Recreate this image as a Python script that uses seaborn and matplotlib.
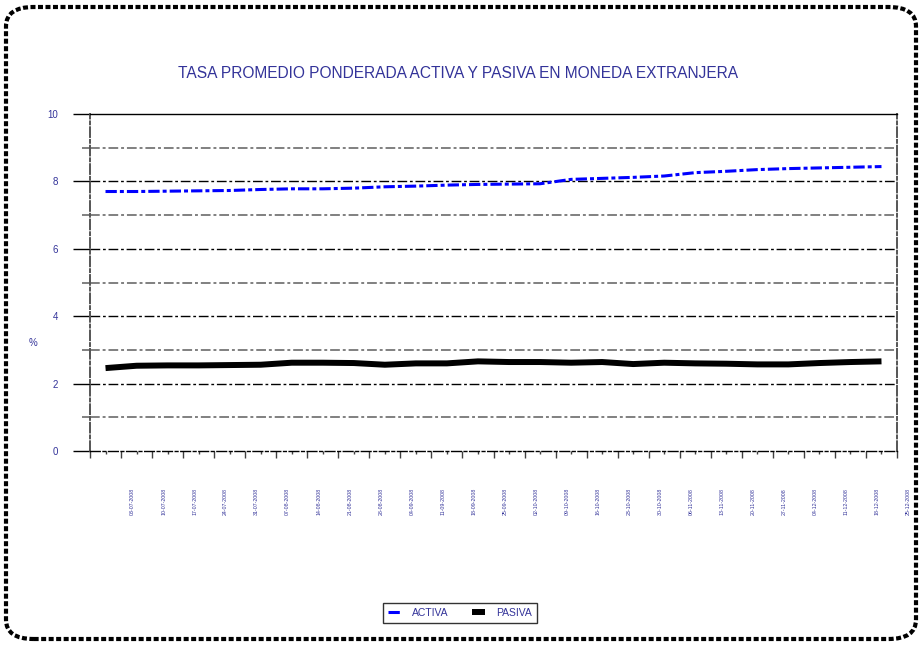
import numpy as np
import pandas as pd
import matplotlib
matplotlib.use("Agg")
import matplotlib.pyplot as plt
import matplotlib.transforms as mtransforms
from matplotlib.patches import FancyBboxPatch
from matplotlib.lines import Line2D
import seaborn as sns

# datos semanales (jueves) 2008
fechas = ['03-07-2008', '10-07-2008', '17-07-2008', '24-07-2008', '31-07-2008',
          '07-08-2008', '14-08-2008', '21-08-2008', '28-08-2008', '04-09-2008',
          '11-09-2008', '18-09-2008', '25-09-2008', '02-10-2008', '09-10-2008',
          '16-10-2008', '23-10-2008', '30-10-2008', '06-11-2008', '13-11-2008',
          '20-11-2008', '27-11-2008', '04-12-2008', '11-12-2008', '18-12-2008',
          '25-12-2008']
activa = [7.70, 7.70, 7.71, 7.72, 7.73, 7.76, 7.78, 7.78, 7.80, 7.84,
          7.86, 7.89, 7.91, 7.92, 7.93, 8.06, 8.09, 8.12, 8.16, 8.26,
          8.30, 8.35, 8.38, 8.40, 8.42, 8.44]
pasiva = [2.46, 2.53, 2.54, 2.54, 2.55, 2.56, 2.62, 2.62, 2.61, 2.56,
          2.60, 2.60, 2.66, 2.64, 2.64, 2.62, 2.64, 2.58, 2.62, 2.60,
          2.59, 2.57, 2.57, 2.61, 2.64, 2.66]

df = pd.DataFrame({'Fecha': fechas, 'ACTIVA': activa, 'PASIVA': pasiva})

azul_txt = '#333399'

sns.set_style('white')
plt.rcParams['font.family'] = ['Liberation Sans', 'DejaVu Sans']

fig = plt.figure(figsize=(9.22, 6.45), dpi=100)
ax = fig.add_axes([90 / 922, 194 / 645, 807 / 922, 337 / 645])

# rejilla horizontal
for v in range(1, 10):
    if v % 2 == 0:
        ax.axhline(v, color='black', lw=1.0, dashes=(7, 2, 2, 2), zorder=1)
    else:
        ax.axhline(v, color='#808080', lw=1.4, dashes=(5, 1.5, 1.5, 1.5), zorder=1)

sns.lineplot(data=df, x='Fecha', y='ACTIVA', ax=ax, color='#0000FF', lw=2.2,
             sort=False, zorder=3)
ax.lines[-1].set_dashes((3.7, 1, 1.3, 1))
ax.lines[-1].set_dash_capstyle('butt')
sns.lineplot(data=df, x='Fecha', y='PASIVA', ax=ax, color='black', lw=4.3,
             sort=False, zorder=3)
ax.lines[-1].set_solid_capstyle('butt')
ax.lines[-1].set_solid_joinstyle('miter')

n = len(fechas)
ax.set_xlim(-0.5, n - 0.5)
ax.set_ylim(0, 10)

ax.set_xticks(np.arange(n))
ax.set_xticklabels(fechas, rotation=90, fontsize=3.8, color=azul_txt,
                   va='top', ha='center')
ax.set_xticks(np.arange(n + 1) - 0.5, minor=True)
ax.tick_params(axis='x', which='both', bottom=True)
ax.tick_params(axis='x', which='major', direction='out', length=2.5, width=1,
               color='#404040', pad=24)
ax.tick_params(axis='x', which='minor', direction='out', length=5, width=1,
               color='#404040')
offset = mtransforms.ScaledTranslation(0.27, 0, fig.dpi_scale_trans)
for lab in ax.get_xticklabels():
    lab.set_transform(lab.get_transform() + offset)

ax.set_yticks([0, 2, 4, 6, 8, 10])
ax.set_yticks([1, 3, 5, 7, 9], minor=True)
ax.set_yticklabels(['0', '2', '4', '6', '8', '10'], fontsize=7, color=azul_txt)
ax.tick_params(axis='y', which='both', left=True)
ax.tick_params(axis='y', which='major', direction='out', length=12, width=1,
               color='black', pad=11)
ax.tick_params(axis='y', which='minor', direction='out', length=6, width=1.4,
               color='#808080')
ax.set_xlabel('')
ax.set_ylabel('')

for side in ['left', 'right']:
    ax.spines[side].set_color('#555555')
    ax.spines[side].set_linewidth(1.4)
    ax.spines[side].set_linestyle((0, (5, 1.5, 1.5, 1.5)))
ax.spines['bottom'].set_color('black')
ax.spines['bottom'].set_linewidth(1.0)
ax.spines['bottom'].set_linestyle((0, (7, 2, 2, 2)))
ax.spines['top'].set_color('black')
ax.spines['top'].set_linewidth(1.0)

fig.text(33 / 922, 1 - 343 / 645, '%', fontsize=7, color=azul_txt,
         ha='center', va='center')
fig.text(458 / 922, 1 - 73 / 645,
         'TASA PROMEDIO PONDERADA ACTIVA Y PASIVA EN MONEDA EXTRANJERA',
         fontsize=11.2, color=azul_txt, ha='center', va='center')

handles = [Line2D([], [], color='#0000FF', lw=2.2, dashes=(3.7, 1, 1.3, 1)),
           Line2D([], [], color='black', lw=4.3, solid_capstyle='butt')]
leg = fig.legend(handles, ['ACTIVA', 'PASIVA'], loc='center',
                 bbox_to_anchor=(460 / 922, 1 - 613 / 645), ncol=2,
                 fontsize=7.5, handlelength=1.3, handletextpad=1.0,
                 columnspacing=2.2, frameon=True, fancybox=False,
                 borderpad=0.5)
leg.get_frame().set_edgecolor('black')
leg.get_frame().set_linewidth(1.0)
for t in leg.get_texts():
    t.set_color(azul_txt)

# borde del grafico
borde = FancyBboxPatch((6 / 922, 6 / 645), 910 / 922, 632 / 645,
                       boxstyle='round,pad=0,rounding_size=0.03',
                       transform=fig.transFigure, fill=False,
                       edgecolor='black', lw=3, linestyle=(0, (1.2, 0.6)),
                       clip_on=False)
fig.add_artist(borde)

fig.savefig('out.png', dpi=100)
